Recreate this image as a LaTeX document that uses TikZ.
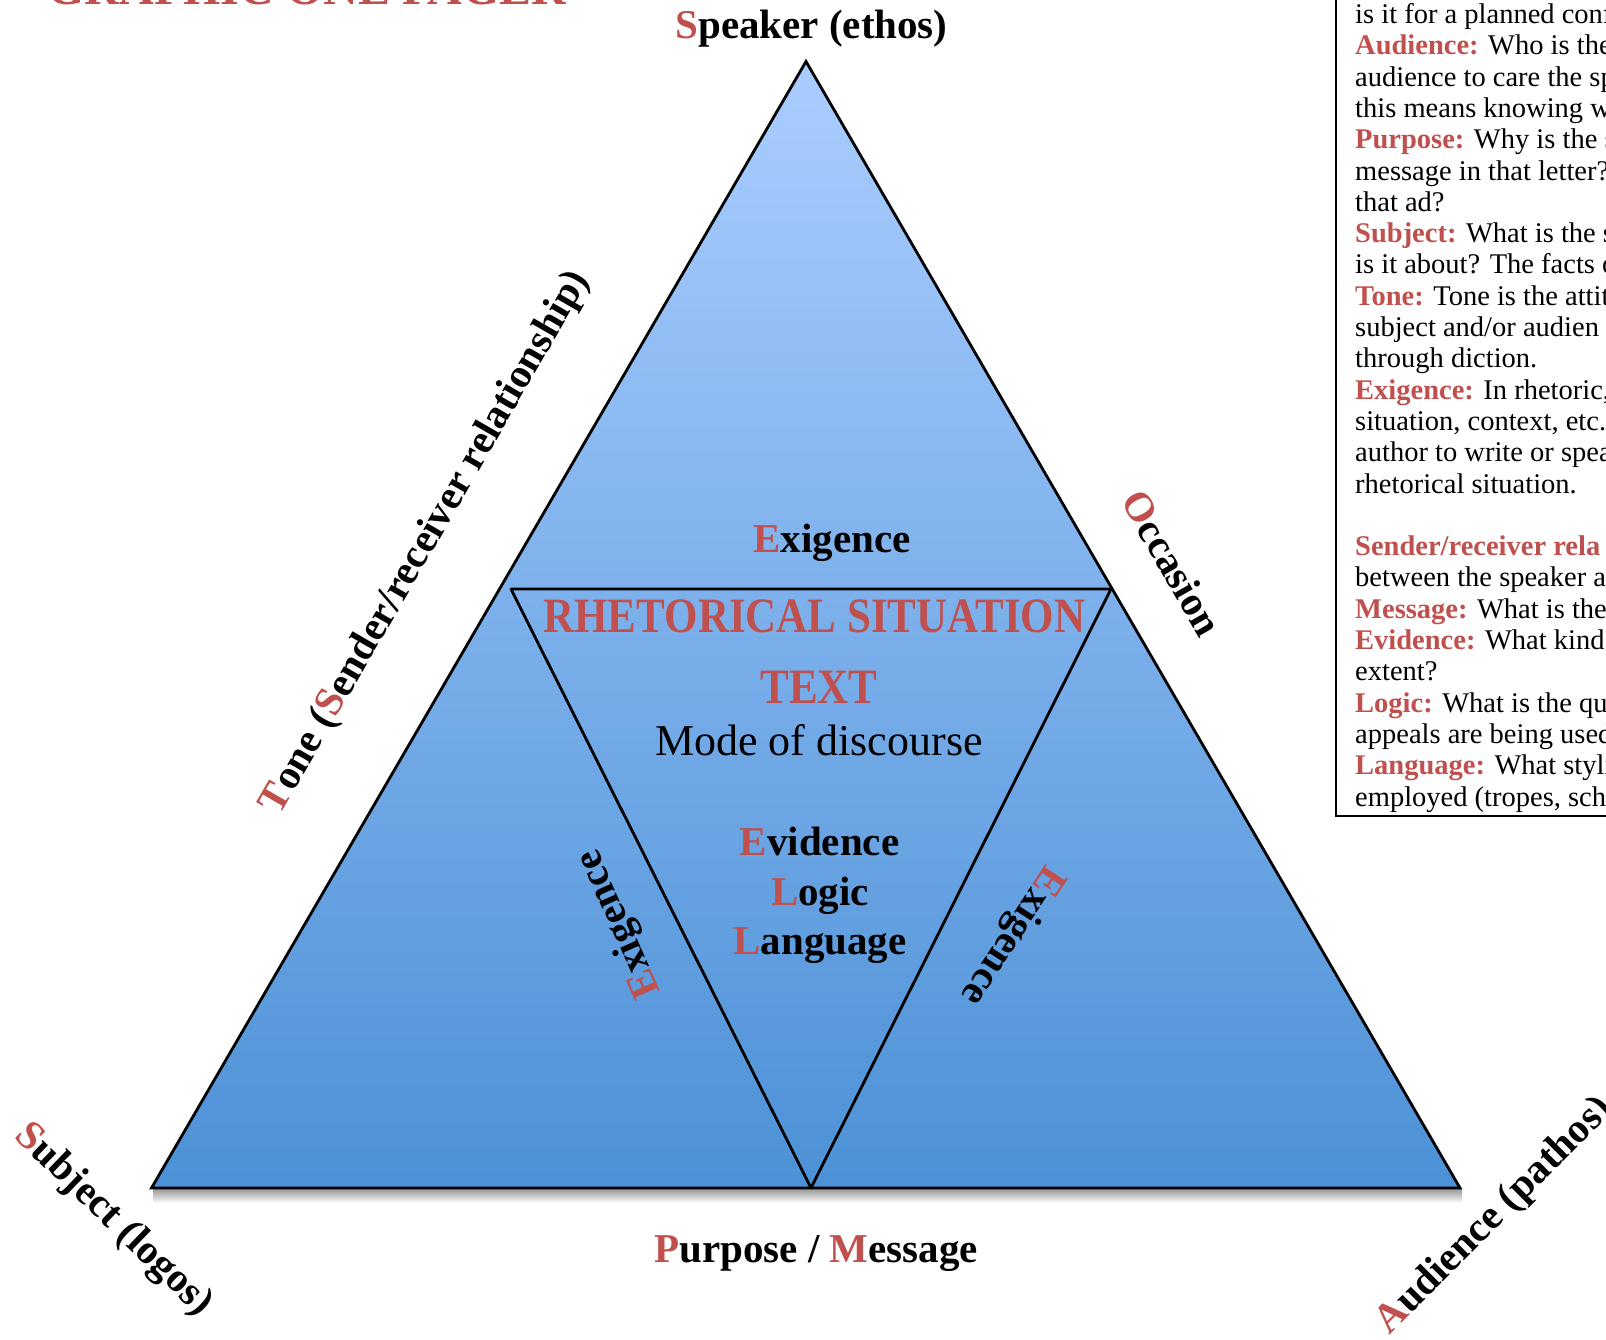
\documentclass[tikz,border=0pt]{standalone}
\usepackage{fontspec}
\setmainfont{Liberation Serif}
\definecolor{accent}{RGB}{192,80,77}
\definecolor{triTop}{RGB}{170,205,255}
\definecolor{triMid}{RGB}{126,177,236}
\definecolor{triBot}{RGB}{76,145,214}
\newcommand\R[1]{\textcolor{accent}{#1}}
\newcommand\kw[1]{\textcolor{accent}{\textbf{#1}}}
\newcommand\tall[1]{\scalebox{1}[1.15]{#1}}
\tikzset{
  lbl/.style={inner sep=0pt, font=\fontsize{41}{48}\selectfont\bfseries},
  bigred/.style={inner sep=0pt, text=accent, font=\fontsize{43}{50}\selectfont\bfseries},
  modetext/.style={inner sep=0pt, font=\fontsize{44}{50}\selectfont},
  titletext/.style={inner sep=0pt, text=accent, font=\fontsize{48}{56}\selectfont\bfseries},
  tri/.style={draw=black, line width=2.8pt},
  desc/.style={inner sep=0pt, anchor=base west, font=\fontsize{28.5}{31.3}\selectfont},
}
\begin{document}
\begin{tikzpicture}[x=1pt,y=-1pt]
\useasboundingbox (0,0) rectangle (1606,1339);
\clip (0,0) rectangle (1606,1339);

% coordinates
\coordinate (A) at (806,61.5);
\coordinate (B) at (151.5,1188);
\coordinate (C) at (1460,1188);
\coordinate (P) at (511,589);
\coordinate (Q) at (1111,589);
\coordinate (M) at (811,1188);

% shadow under base
\fill[top color=black!40, bottom color=white] (153,1189) rectangle (1462,1203);

% triangles
\draw[tri, top color=triTop, bottom color=triBot] (A) -- (B) -- (C) -- cycle;
\draw[tri, line join=round, top color=triMid, bottom color=triBot] (P) -- (Q) -- (M) -- cycle;

% title (cut off at top)
\node[titletext, anchor=base] (ttl) at (307,4) {GRAPHIC ONE PAGER};

% labels
\node[lbl, anchor=base] (speaker) at (811.5,38) {\R{S}peaker (ethos)};
\node[lbl, anchor=base] (exTop) at (832,552) {\R{E}xigence};
\node[bigred, anchor=base] (rs) at (814.5,632) {\tall{RHETORICAL SITUATION}};
\node[bigred, anchor=base] (txt) at (819,703) {\tall{TEXT}};
\node[modetext, anchor=base] (mode) at (819,755) {Mode of discourse};
\node[lbl, anchor=base] (evi) at (819.5,855) {\R{E}vidence};
\node[lbl, anchor=base] (logic) at (820,905) {\R{L}ogic};
\node[lbl, anchor=base] (lang) at (820,954.5) {\R{L}anguage};
\node[lbl, anchor=base] (pm) at (816,1262) {\R{P}urpose / \R{M}essage};
\node[lbl, rotate=60] (tone) at (426,543) {\R{T}one (\R{S}ender/receiver relationship)};
\node[lbl, rotate=-60] (occ) at (1172,563) {\R{O}ccasion};
\node[lbl, rotate=-44] (subj) at (113,1220) {\R{S}ubject (logos)};
\node[lbl, rotate=45] (aud) at (1495,1216) {\R{A}udience (pathos)};
\node[lbl, rotate=114] (exL) at (620,924) {\R{E}xigence};
\node[lbl, rotate=237] (exR) at (1012,935) {\R{E}xigence};

% description box
\draw[line width=2pt] (1336,-10) rectangle (1630,816);
\begin{scope}
\clip (1337,-10) rectangle (1630,815);
\node[desc] (d0) at (1355,23.5) {is it for a planned conf};
\node[desc] (d1) at (1355,54.8) {\kw{Audience:} Who is the};
\node[desc] (d2) at (1355,86.1) {audience to care the sp};
\node[desc] (d3) at (1355,117.4) {this means knowing w};
\node[desc] (d4) at (1355,148.7) {\kw{Purpose:} Why is the s};
\node[desc] (d5) at (1355,180.0) {message in that letter?};
\node[desc] (d6) at (1355,211.3) {that ad?};
\node[desc] (d7) at (1355,242.6) {\kw{Subject:} What is the su};
\node[desc] (d8) at (1355,273.9) {is it about? The facts o};
\node[desc] (d9) at (1355,305.2) {\kw{Tone:} Tone is the attit};
\node[desc] (d10) at (1355,336.5) {subject and/or audien};
\node[desc] (d11) at (1355,367.8) {through diction.};
\node[desc] (d12) at (1355,399.1) {\kw{Exigence:} In rhetoric,};
\node[desc] (d13) at (1355,430.4) {situation, context, etc.};
\node[desc] (d14) at (1355,461.7) {author to write or spea};
\node[desc] (d15) at (1355,493.0) {rhetorical situation.};
\node[desc] (d17) at (1355,555.6) {\kw{Sender/receiver rela}};
\node[desc] (d18) at (1355,586.9) {between the speaker a};
\node[desc] (d19) at (1355,618.2) {\kw{Message:} What is the};
\node[desc] (d20) at (1355,649.5) {\kw{Evidence:} What kind o};
\node[desc] (d21) at (1355,680.8) {extent?};
\node[desc] (d22) at (1355,712.1) {\kw{Logic:} What is the qua};
\node[desc] (d23) at (1355,743.4) {appeals are being used};
\node[desc] (d24) at (1355,774.7) {\kw{Language:} What stylis};
\node[desc] (d25) at (1355,806.0) {employed (tropes, sch};
\end{scope}
\end{tikzpicture}
\end{document}
